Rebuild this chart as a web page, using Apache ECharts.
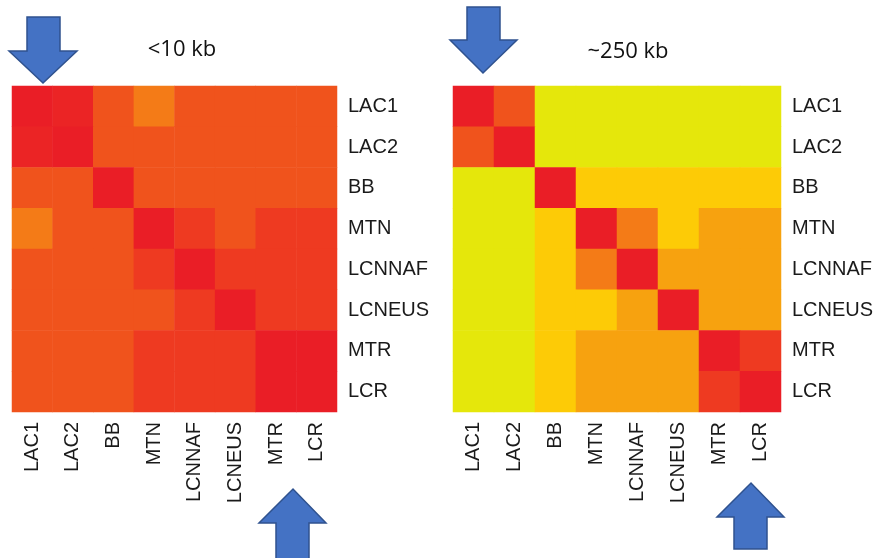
<!DOCTYPE html>
<html>
<head>
<meta charset="utf-8">
<script src="https://cdn.jsdelivr.net/npm/echarts@6/dist/echarts.min.js"></script>
<style>
  html, body { margin: 0; padding: 0; background: #fff; }
  #chart { width: 881px; height: 558px; }
</style>
</head>
<body>
<div id="chart"></div>
<script>
// Categories (same for rows and columns)
const categories = ['LAC1', 'LAC2', 'BB', 'MTN', 'LCNNAF', 'LCNEUS', 'MTR', 'LCR'];

// Similarity level (0 = lowest / yellow, 6 = highest / red), rows top to bottom
const shortRange = [
  [6.0, 5.8, 4, 3, 4, 4, 4, 4],
  [5.8, 6.0, 4, 4, 4, 4, 4, 4],
  [4, 4, 6, 4, 4, 4, 4, 4],
  [3, 4, 4, 6, 5, 4, 5, 5],
  [4, 4, 4, 5, 6, 5, 5, 5],
  [4, 4, 4, 4, 5, 6, 5, 5],
  [4, 4, 4, 5, 5, 5, 6, 6],
  [4, 4, 4, 5, 5, 5, 6, 6]
];

const longRange = [
  [6, 4, 0, 0, 0, 0, 0, 0],
  [4, 6, 0, 0, 0, 0, 0, 0],
  [0, 0, 6, 1, 1, 1, 1, 1],
  [0, 0, 1, 6, 3, 1, 2, 2],
  [0, 0, 1, 3, 6, 2, 2, 2],
  [0, 0, 1, 1, 2, 6, 2, 2],
  [0, 0, 1, 2, 2, 2, 6, 5],
  [0, 0, 1, 2, 2, 2, 5, 6]
];

const titles = ['<10 kb', '~250 kb'];
const palette = ['#E5E70B', '#FDCB06', '#F7A20F', '#F47B17', '#F0531C', '#EE3A21', '#EA1E26'];

function toData(m) {
  const out = [];
  m.forEach((row, r) => row.forEach((v, c) => out.push([c, r, v])));
  return out;
}

const labelFont = { fontFamily: 'Liberation Sans, Arial, sans-serif', fontSize: 20, color: '#1a1a1a' };

const chart = echarts.init(document.getElementById('chart'), null, { renderer: 'canvas' });

const grids = [
  { left: 12, top: 86, width: 325, height: 326 },
  { left: 453, top: 86, width: 328, height: 326 }
];

const arrowStyle = { fill: '#4472C4', stroke: '#2F528F', lineWidth: 1.5 };

chart.setOption({
  animation: false,
  backgroundColor: '#ffffff',
  title: [
    { text: titles[0], left: 177, top: 45, textAlign: 'center', textVerticalAlign: 'middle',
      textStyle: { fontFamily: 'Open Sans', fontSize: 22, fontWeight: 'normal', color: '#111' } },
    { text: titles[1], left: 623, top: 47, textAlign: 'center', textVerticalAlign: 'middle',
      textStyle: { fontFamily: 'Open Sans', fontSize: 22, fontWeight: 'normal', color: '#111' } }
  ],
  grid: grids,
  xAxis: [0, 1].map(i => ({
    type: 'category', gridIndex: i, data: categories, position: 'bottom',
    axisLine: { show: false }, axisTick: { show: false }, splitLine: { show: false },
    axisLabel: Object.assign({ rotate: 90, margin: 10, interval: 0 }, labelFont)
  })),
  yAxis: [0, 1].map(i => ({
    type: 'category', gridIndex: i, data: categories, position: 'right', inverse: true,
    axisLine: { show: false }, axisTick: { show: false }, splitLine: { show: false },
    axisLabel: Object.assign({ margin: 11, interval: 0, padding: [4, 0, 0, 0] }, labelFont)
  })),
  visualMap: {
    show: false, type: 'continuous', min: 0, max: 6, seriesIndex: [0, 1],
    inRange: { color: palette }
  },
  series: [
    { type: 'heatmap', xAxisIndex: 0, yAxisIndex: 0, data: toData(shortRange),
      itemStyle: { borderWidth: 0 }, emphasis: { disabled: true } },
    { type: 'heatmap', xAxisIndex: 1, yAxisIndex: 1, data: toData(longRange),
      itemStyle: { borderWidth: 0 }, emphasis: { disabled: true } }
  ],
  graphic: [
    { type: 'polygon', shape: { points: [[27,17],[60,17],[60,51],[77,51],[43,83],[9,51],[27,51]] }, style: arrowStyle },
    { type: 'polygon', shape: { points: [[467,7],[500,7],[500,40],[517,40],[483,73],[450,40],[467,40]] }, style: arrowStyle },
    { type: 'polygon', shape: { points: [[276,560],[276,523],[259,523],[293,489],[326,523],[309,523],[309,560]] }, style: arrowStyle },
    { type: 'polygon', shape: { points: [[734,549],[734,517],[717,517],[751,483],[784,517],[767,517],[767,549]] }, style: arrowStyle }
  ]
});
</script>
</body>
</html>
